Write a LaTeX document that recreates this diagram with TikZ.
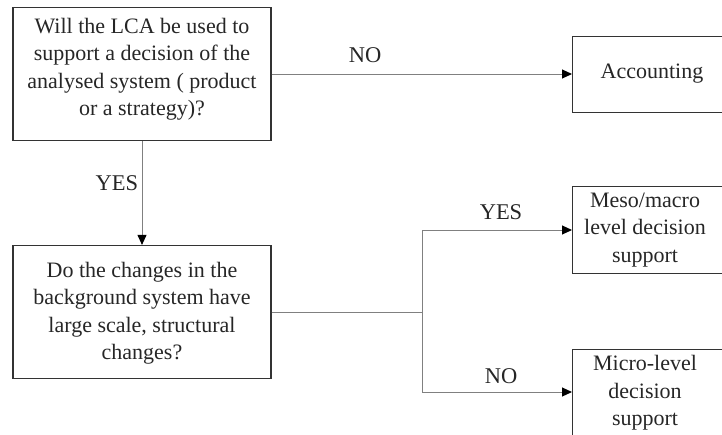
\documentclass[tikz,border=0pt]{standalone}
\usepackage{fontspec}
\setmainfont{Liberation Serif}
\usetikzlibrary{arrows.meta}
\begin{document}
\begin{tikzpicture}[x=1pt,y=-1pt,
  box/.style={draw=black!80,line width=1.2pt,inner sep=0pt},
  txt/.style={font=\fontsize{22}{27.5}\selectfont,align=center,text=black!85},
  lbl/.style={font=\fontsize{22.5}{24}\selectfont,text=black!85},
  link/.style={draw=black!50,line width=1pt},
  arr/.style={link,-{Triangle[length=10pt,width=9pt,color=black]}}]
\useasboundingbox (0,0) rectangle (722,434);
% question boxes
\node[box,minimum width=258pt,minimum height=133pt] (q1) at (142,74) {};
\node[txt] (q1t) at (142,69) {Will the LCA be used to\\support a decision of the\\analysed system ( product\\or a strategy)?};
\node[box,minimum width=258pt,minimum height=133pt] (q2) at (142,312) {};
\node[txt] (q2t) at (142,313) {Do the changes in the\\background system have\\large scale, structural\\changes?};
% outcome boxes
\node[box,minimum width=160pt,minimum height=76pt,anchor=north west] (acc) at (572,36) {};
\node[txt] (acct) at (652,74) {Accounting};
\node[box,minimum width=160pt,minimum height=87pt,anchor=north west] (meso) at (572,186) {};
\node[txt] (mesot) at (645,230) {Meso/macro\\level decision\\support};
\node[box,minimum width=160pt,minimum height=100pt,anchor=north west] (micro) at (572,349) {};
\node[txt] (microt) at (645,393) {Micro-level\\decision\\support};
% connectors
\coordinate (split) at (422,312);
\draw[arr] (q1.east) -- (q1.east -| acc.west);
\draw[arr] (q1.south) -- (q2.north);
\draw[link] (q2.east) -- (split);
\draw[arr] (split) |- (meso.west |- 0,230);
\draw[arr] (split) |- (micro.west |- 0,392);
% branch labels
\node[lbl] (no1) at (365,55) {NO};
\node[lbl] (yes1) at (117,183) {YES};
\node[lbl] (yes2) at (501,212) {YES};
\node[lbl] (no2) at (501,376) {NO};
\end{tikzpicture}
\end{document}
